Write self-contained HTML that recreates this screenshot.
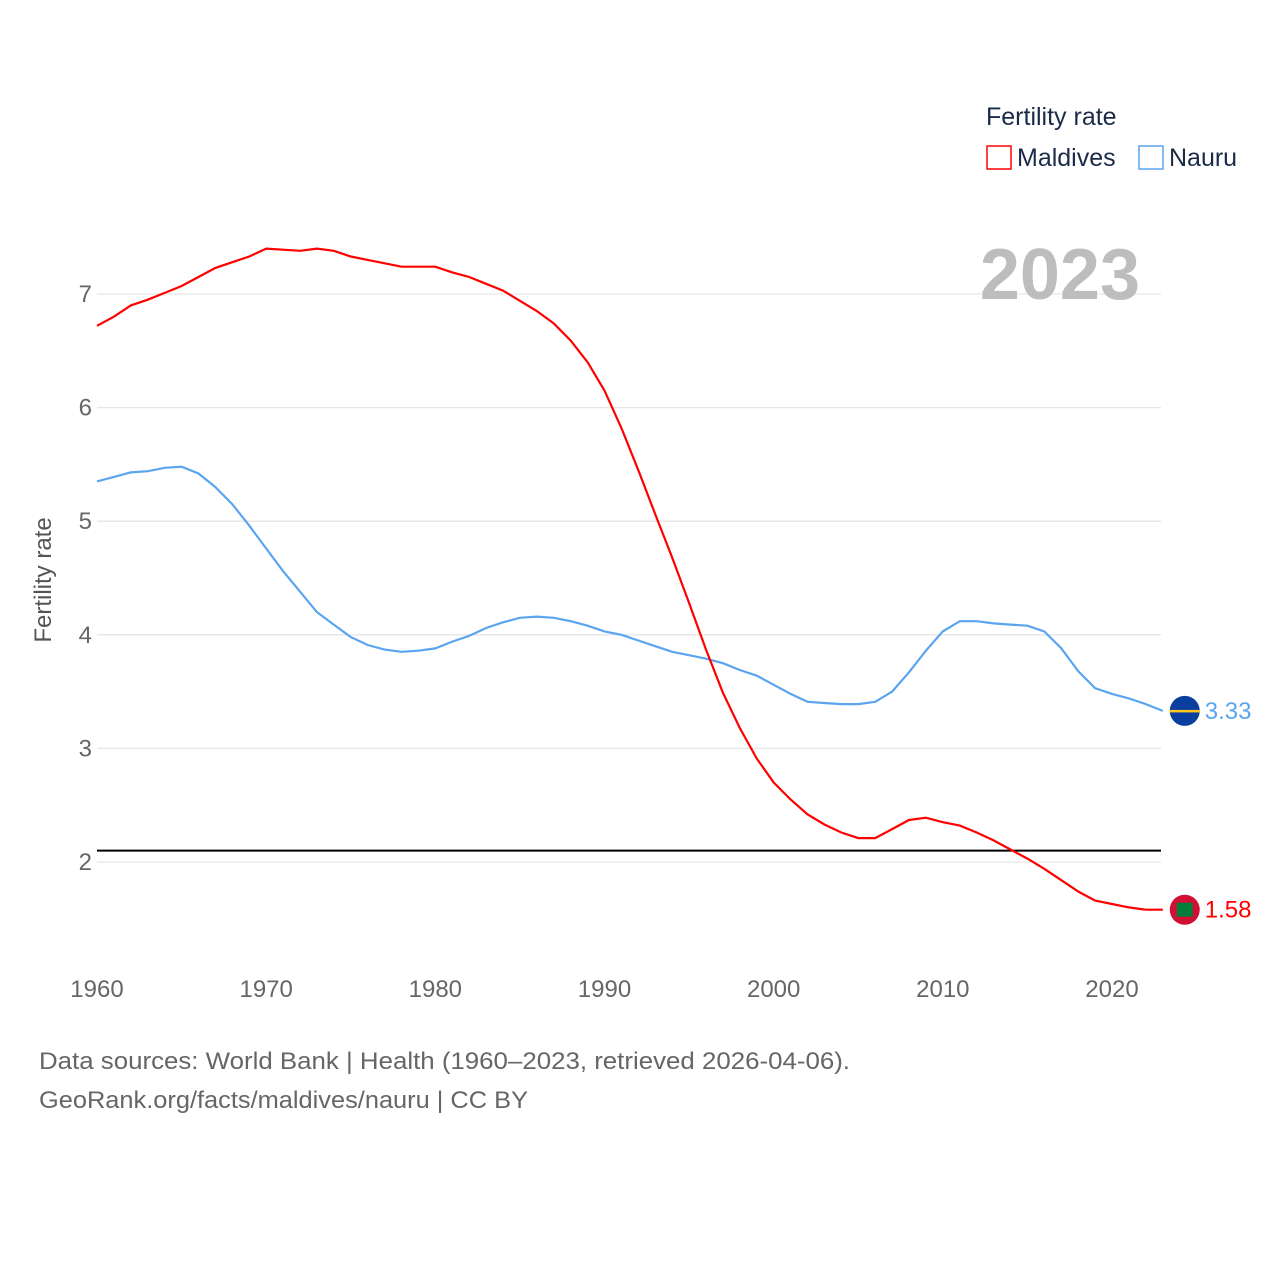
<!DOCTYPE html>
<html><head><meta charset="utf-8"><style>
body{margin:0;background:#fff;font-family:"Liberation Sans",sans-serif}
svg text{font-family:"Liberation Sans",sans-serif}
</style></head><body>
<svg id="chart" width="1280" height="1280" viewBox="0 0 1280 1280">
<g id="grid"></g><g id="series"></g>
<text x="986" y="125" font-size="25" fill="#1a2b48">Fertility rate</text>
<rect x="987" y="146" width="24" height="23" fill="none" stroke="#ff0000" stroke-width="1.5"/>
<text x="1017" y="166" font-size="25" fill="#1a2b48">Maldives</text>
<rect x="1139" y="146" width="24" height="23" fill="none" stroke="#5ba4f0" stroke-width="1.5"/>
<text x="1169" y="166" font-size="25" fill="#1a2b48">Nauru</text>
<text x="1140" y="299" font-size="72" font-weight="bold" fill="#bdbdbd" text-anchor="end">2023</text>
<text transform="translate(51,580) rotate(-90)" font-size="24" fill="#555" text-anchor="middle">Fertility rate</text>
<text x="39" y="1069" font-size="24" fill="#666" textLength="811" lengthAdjust="spacingAndGlyphs">Data sources: World Bank | Health (1960–2023, retrieved 2026-04-06).</text>
<text x="39" y="1108" font-size="24" fill="#666" textLength="489" lengthAdjust="spacingAndGlyphs">GeoRank.org/facts/maldives/nauru | CC BY</text>
</svg>
<script>
const years=[];for(let y=1960;y<=2023;y++)years.push(y);
const maldives=[6.72,6.80,6.90,6.95,7.01,7.07,7.15,7.23,7.28,7.33,7.40,7.39,7.38,7.40,7.38,7.33,7.30,7.27,7.24,7.24,7.24,7.19,7.15,7.09,7.03,6.94,6.85,6.74,6.59,6.40,6.15,5.82,5.45,5.06,4.68,4.28,3.87,3.49,3.18,2.91,2.70,2.55,2.42,2.33,2.26,2.21,2.21,2.29,2.37,2.39,2.35,2.32,2.26,2.19,2.11,2.03,1.94,1.84,1.74,1.66,1.63,1.60,1.58,1.58];
const nauru=[5.35,5.39,5.43,5.44,5.47,5.48,5.42,5.30,5.15,4.96,4.76,4.56,4.38,4.20,4.09,3.98,3.91,3.87,3.85,3.86,3.88,3.94,3.99,4.06,4.11,4.15,4.16,4.15,4.12,4.08,4.03,4.00,3.95,3.90,3.85,3.82,3.79,3.75,3.69,3.64,3.56,3.48,3.41,3.40,3.39,3.39,3.41,3.50,3.67,3.86,4.03,4.12,4.12,4.10,4.09,4.08,4.03,3.88,3.68,3.53,3.48,3.44,3.39,3.33];
const yTicks=[2,3,4,5,6,7];
const xTicks=[1960,1970,1980,1990,2000,2010,2020];
const replacement=2.1;
const X=y=>97+(y-1960)*(1015/60);
const Y=v=>294+(7-v)*113.6;
const NS='http://www.w3.org/2000/svg';
function mk(tag,attrs,parent){const e=document.createElementNS(NS,tag);for(const k in attrs)e.setAttribute(k,attrs[k]);parent.appendChild(e);return e;}
const grid=document.getElementById('grid'),ser=document.getElementById('series');
yTicks.forEach(v=>{
 const l=mk('line',{x1:97,x2:1161,y1:Y(v),y2:Y(v),stroke:'#e6e6e6','stroke-width':1.3},grid);
 
 
 const t=mk('text',{x:92,y:Y(v)+8,'font-size':24,fill:'#666','text-anchor':'end'},grid);t.textContent=v;
 
 
});
xTicks.forEach(v=>{
 const t=mk('text',{x:X(v),y:997,'font-size':24,fill:'#666','text-anchor':'middle'},grid);t.textContent=v;
 
 
});
const ref=mk('line',{x1:97,x2:1161,y1:Y(replacement),y2:Y(replacement),stroke:'#000','stroke-width':2},grid);


function series(vals,color,name,flagFill){
 const p=mk('path',{d:vals.map((v,i)=>(i?'L':'M')+X(years[i]).toFixed(1)+','+Y(v).toFixed(1)).join(''),fill:'none',stroke:color,'stroke-width':2.2},ser);
 
 
 const last=vals[vals.length-1],lx=X(years[years.length-1]);
 const c=mk('circle',{cx:lx+22,cy:Y(last),r:15,fill:flagFill},ser);
 
 
 const t=mk('text',{x:lx+42,y:Y(last)+8,'font-size':24,fill:color},ser);t.textContent=last.toFixed(2);
 
 
 return lx;
}
const lx=series(nauru,'#5ba4f0','nauru','#0a3fa0');
const nb=mk('rect',{x:lx+7,y:Y(nauru[nauru.length-1])-1,width:30,height:2.5,fill:'#ffc61e'},ser);


series(maldives,'#ff0000','maldives','#d21034');
const mr=mk('rect',{x:lx+14,y:Y(maldives[maldives.length-1])-7,width:16,height:14,fill:'#007e3a'},ser);


</script>
</body></html>
